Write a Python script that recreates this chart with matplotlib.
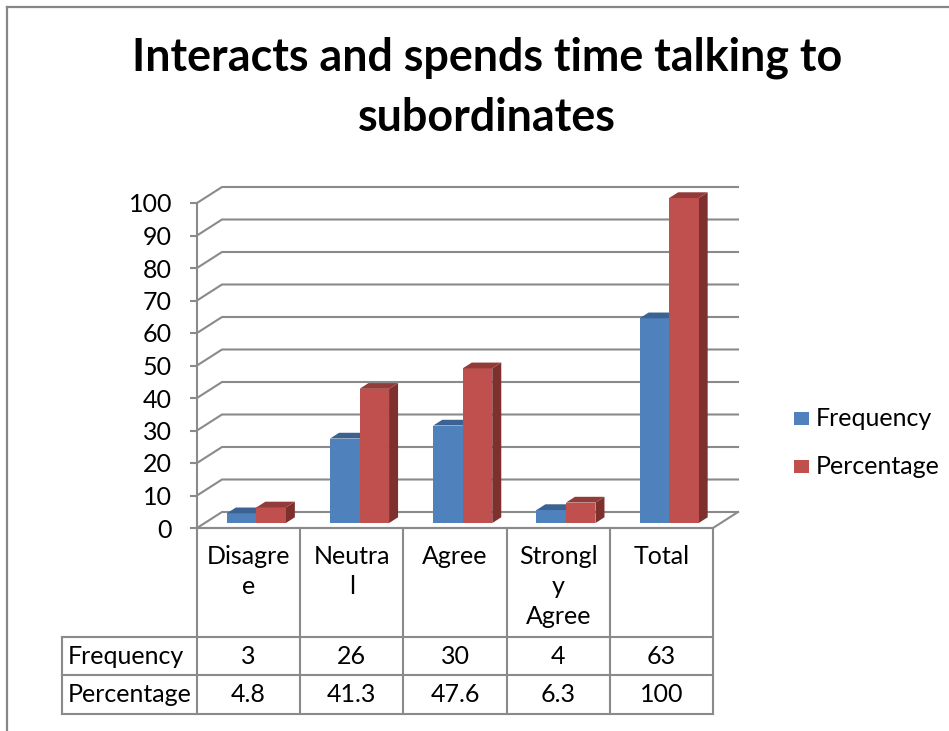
import numpy as np
import matplotlib
matplotlib.use("Agg")
import matplotlib.pyplot as plt
from matplotlib.patches import Polygon, Rectangle
from matplotlib.lines import Line2D

# dane z wykresu
kategorie = ["Disagree", "Neutral", "Agree", "Strongly Agree", "Total"]
etykiety_tabeli = ["Disagre\ne", "Neutra\nl", "Agree", "Strongl\ny\nAgree", "Total"]
frequency = [3, 26, 30, 4, 63]
percentage = [4.8, 41.3, 47.6, 6.3, 100]
percentage_txt = ["4.8", "41.3", "47.6", "6.3", "100"]
serie = ["Frequency", "Percentage"]

plt.rcParams['font.family'] = ['Lato', 'DejaVu Sans']

W, H = 949, 731
fig = plt.figure(figsize=(W / 100, H / 100), dpi=100)
fig.patch.set_facecolor("white")

def fx(px):
    return px / W

def fy(py):
    return 1 - py / H

# ramka wykresu (lewa i gorna krawedz)
fig.add_artist(Line2D([fx(7), fx(7)], [0, fy(7)], color="#878787", lw=1.6))
fig.add_artist(Line2D([fx(7), 1], [fy(7), fy(7)], color="#878787", lw=1.6))

# tytul
fig.text(fx(487), fy(58), "Interacts and spends time talking to", ha="center",
         va="center", fontsize=32.3, fontweight="bold")
fig.text(fx(487), fy(118), "subordinates", ha="center", va="center",
         fontsize=32.3, fontweight="bold")

# glowny obszar (plaszczyzna przednia)
ax = fig.add_axes([fx(197), fy(528), fx(713) - fx(197), fy(203) - fy(528)])
ax.set_xlim(0, 5)
ax.set_ylim(0, 100)
ax.patch.set_alpha(0)
for s in ["top", "right", "bottom"]:
    ax.spines[s].set_visible(False)
ax.spines["left"].set_color("#8a8a8a")
ax.spines["left"].set_linewidth(1.5)
ax.set_xticks([])
ax.set_yticks(np.arange(0, 101, 10))
ax.tick_params(axis="y", length=5, width=1.5, color="#8a8a8a", pad=13,
               labelsize=18, labelcolor="black")

# glebokosc 3D
dx = 25 / 103.2
dy = 16 / 3.25
siatka = "#8a8a8a"
for v in range(0, 101, 10):
    ax.plot([0, dx, 5 + dx], [v, v + dy, v + dy], color=siatka, lw=1.5,
            clip_on=False, zorder=1)
# podloga
ax.plot([0, 5, 5 + dx], [0, 0, dy], color=siatka, lw=1.5, clip_on=False, zorder=1)

# slupki 3D
w = 0.286
f0, f1 = 0.31, 0.67
kolory = [("#4F81BD", "#3B6291", "#355884"),
          ("#C0504D", "#933B39", "#7D302E")]

def slupek(x0, v, kol):
    przod, gora, bok = kol
    b = f0 * dy
    ddx = (f1 - f0) * dx
    ddy = (f1 - f0) * dy
    ax.add_patch(Polygon([(x0 + w, b), (x0 + w + ddx, b + ddy),
                          (x0 + w + ddx, b + v + ddy), (x0 + w, b + v)],
                         closed=True, facecolor=bok, edgecolor="none",
                         clip_on=False, zorder=3))
    ax.add_patch(Rectangle((x0, b), w, v, facecolor=przod, edgecolor="none",
                           clip_on=False, zorder=3))
    ax.add_patch(Polygon([(x0, b + v), (x0 + w, b + v), (x0 + w + ddx, b + v + ddy),
                          (x0 + ddx, b + v + ddy)], closed=True, facecolor=gora,
                         edgecolor="none", clip_on=False, zorder=3))

for i in range(len(kategorie)):
    x_b = i + 0.5 - w + f0 * dx
    x_r = i + 0.5 + f0 * dx
    slupek(x_b, frequency[i], kolory[0])
    slupek(x_r, percentage[i], kolory[1])

# legenda
for k, (nazwa, yy) in enumerate(zip(serie, [418, 466])):
    fig.add_artist(Rectangle((fx(794), fy(yy + 7)), fx(809) - fx(794), fy(yy - 6) - fy(yy + 7),
                             facecolor=kolory[k][0], edgecolor="none"))
    fig.text(fx(816), fy(yy), nazwa, ha="left", va="center", fontsize=18)

# tabela danych
tx = fig.add_axes([fx(62), fy(714), fx(713) - fx(62), fy(528) - fy(714)])
lewo = -135 / 103.2
tx.set_xlim(lewo, 5)
tx.set_ylim(0, 186)
tx.axis("off")
lin = dict(color="#8a8a8a", lw=1.5, clip_on=False)
# linie poziome
tx.plot([0, 5], [186, 186], **lin)
for yy in [0, 39, 77]:
    tx.plot([lewo, 5], [yy, yy], **lin)
# linie pionowe
tx.plot([lewo, lewo], [0, 77], **lin)
for i in range(6):
    tx.plot([i, i], [0, 186], **lin)

for i, et in enumerate(etykiety_tabeli):
    tx.text(i + 0.5, 186 - 17, et, ha="center", va="top", fontsize=18,
            linespacing=1.37)
    tx.text(i + 0.5, 58, str(frequency[i]), ha="center", va="center", fontsize=18)
    tx.text(i + 0.5, 19.5, percentage_txt[i], ha="center", va="center", fontsize=18)
tx.text(lewo + 6 / 103.2, 58, serie[0], ha="left", va="center", fontsize=18)
tx.text(lewo + 6 / 103.2, 19.5, serie[1], ha="left", va="center", fontsize=18)

fig.savefig("out.png", dpi=100, facecolor="white")
